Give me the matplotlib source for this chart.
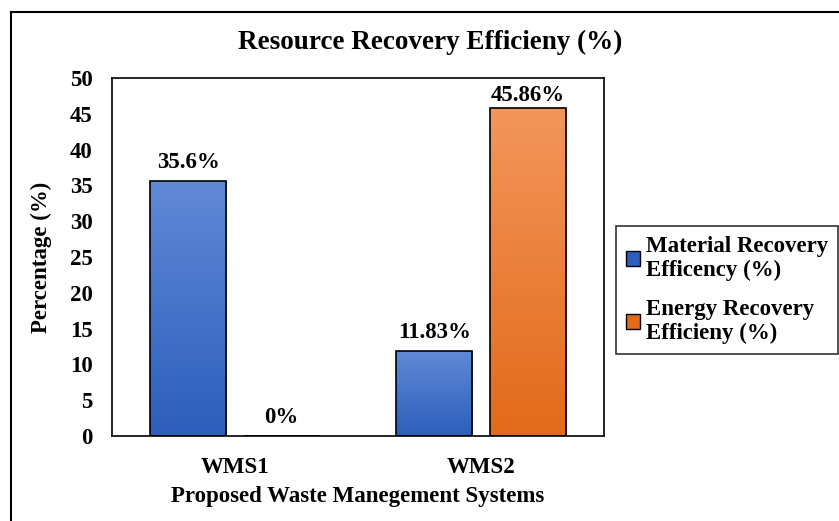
import matplotlib.pyplot as plt
import numpy as np
from matplotlib.colors import LinearSegmentedColormap
from matplotlib.lines import Line2D
from matplotlib.patches import Patch

# ---------------------------------------------------------------------------
# data
# ---------------------------------------------------------------------------
systems = ["WMS1", "WMS2"]
material_eff = [35.6, 11.83]
energy_eff = [0.0, 45.86]
material_labels = ["35.6%", "11.83%"]
energy_labels = ["0%", "45.86%"]
y_ticks = [0, 5, 10, 15, 20, 25, 30, 35, 40, 45, 50]

plt.rcParams["font.family"] = ["Liberation Serif", "DejaVu Serif"]
plt.rcParams["font.weight"] = "bold"

BLUE_TOP, BLUE_BOT = "#6189d6", "#2c5ebc"
ORANGE_TOP, ORANGE_BOT = "#f3965c", "#e26a1a"
FS = 16.5
YMAX = 50


def gradient_bars(ax, bars, top, bottom):
    """막대를 위->아래 그라데이션으로 채움."""
    cmap = LinearSegmentedColormap.from_list("g", [bottom, top])
    grad = np.linspace(0, 1, 256).reshape(-1, 1)
    for bar in bars:
        x0, y0 = bar.get_x(), bar.get_y()
        w, h = bar.get_width(), bar.get_height()
        if h <= 0:
            continue
        bar.set_facecolor("none")
        im = ax.imshow(grad, extent=[x0, x0 + w, y0, y0 + h], origin="lower",
                       aspect="auto", cmap=cmap, zorder=2)
        im.set_clip_path(bar)


def label_bars(ax, xs, vals, labels):
    # 라벨이 plot 영역 밖으로 나가지 않도록 오프셋 제한
    for xi, v, lab in zip(xs, vals, labels):
        room = (YMAX - v) * (358 / YMAX) * 0.72 - FS - 4
        dy = max(0.5, min(6, room))
        ax.annotate(lab, (xi, v), xytext=(0, dy), textcoords="offset points",
                    ha="center", va="bottom", fontsize=FS, fontweight="bold")


fig = plt.figure(figsize=(8.39, 5.21), dpi=100)
ax = fig.add_axes([112 / 839, 1 - 436 / 521, 492 / 839, 358 / 521])

x = np.arange(len(systems))
w = 0.31
off = 0.19

b1 = ax.bar(x - off, material_eff, w, edgecolor="black", linewidth=1.2, zorder=3)
b2 = ax.bar(x + off, energy_eff, w, edgecolor="black", linewidth=1.2, zorder=3)
gradient_bars(ax, b1, BLUE_TOP, BLUE_BOT)
gradient_bars(ax, b2, ORANGE_TOP, ORANGE_BOT)

label_bars(ax, x - off, material_eff, material_labels)
label_bars(ax, x + off, energy_eff, energy_labels)

ax.set_xlim(-0.5, 1.5)
ax.set_ylim(0, YMAX)
ax.set_yticks(y_ticks)
ax.set_xticks(x)
ax.set_xticklabels(systems)
ax.tick_params(axis="both", length=0, labelsize=FS)
ax.tick_params(axis="y", pad=14)
ax.tick_params(axis="x", pad=15)
for s in ax.spines.values():
    s.set_linewidth(1.2)

ax.set_ylabel("Percentage (%)", fontsize=FS, fontweight="bold", labelpad=13)
ax.set_xlabel("Proposed Waste Manegement Systems", fontsize=FS, fontweight="bold", labelpad=6)
fig.text(430 / 839, 1 - 42 / 521, "Resource Recovery Efficieny (%)",
         ha="center", va="center", fontsize=19.5, fontweight="bold")

handles = [
    Patch(facecolor=BLUE_BOT, edgecolor="black", label="Material Recovery\nEfficency (%)"),
    Patch(facecolor=ORANGE_BOT, edgecolor="black", label="Energy Recovery\nEfficieny (%)"),
]
leg = fig.legend(handles=handles, loc="center", bbox_to_anchor=(727 / 839, 1 - 290 / 521),
                 fontsize=FS, frameon=True, fancybox=False, edgecolor="black",
                 handlelength=0.6, handleheight=0.6, handletextpad=0.25,
                 labelspacing=0.75, borderpad=0.45, borderaxespad=0)
leg.get_frame().set_linewidth(1.2)

# outer border (left + top only visible)
fig.add_artist(Line2D([11 / 839, 11 / 839], [0, 1 - 12 / 521], color="black", lw=1.5))
fig.add_artist(Line2D([11 / 839, 1], [1 - 12 / 521, 1 - 12 / 521], color="black", lw=1.5))

fig.savefig("out.png", dpi=100)
